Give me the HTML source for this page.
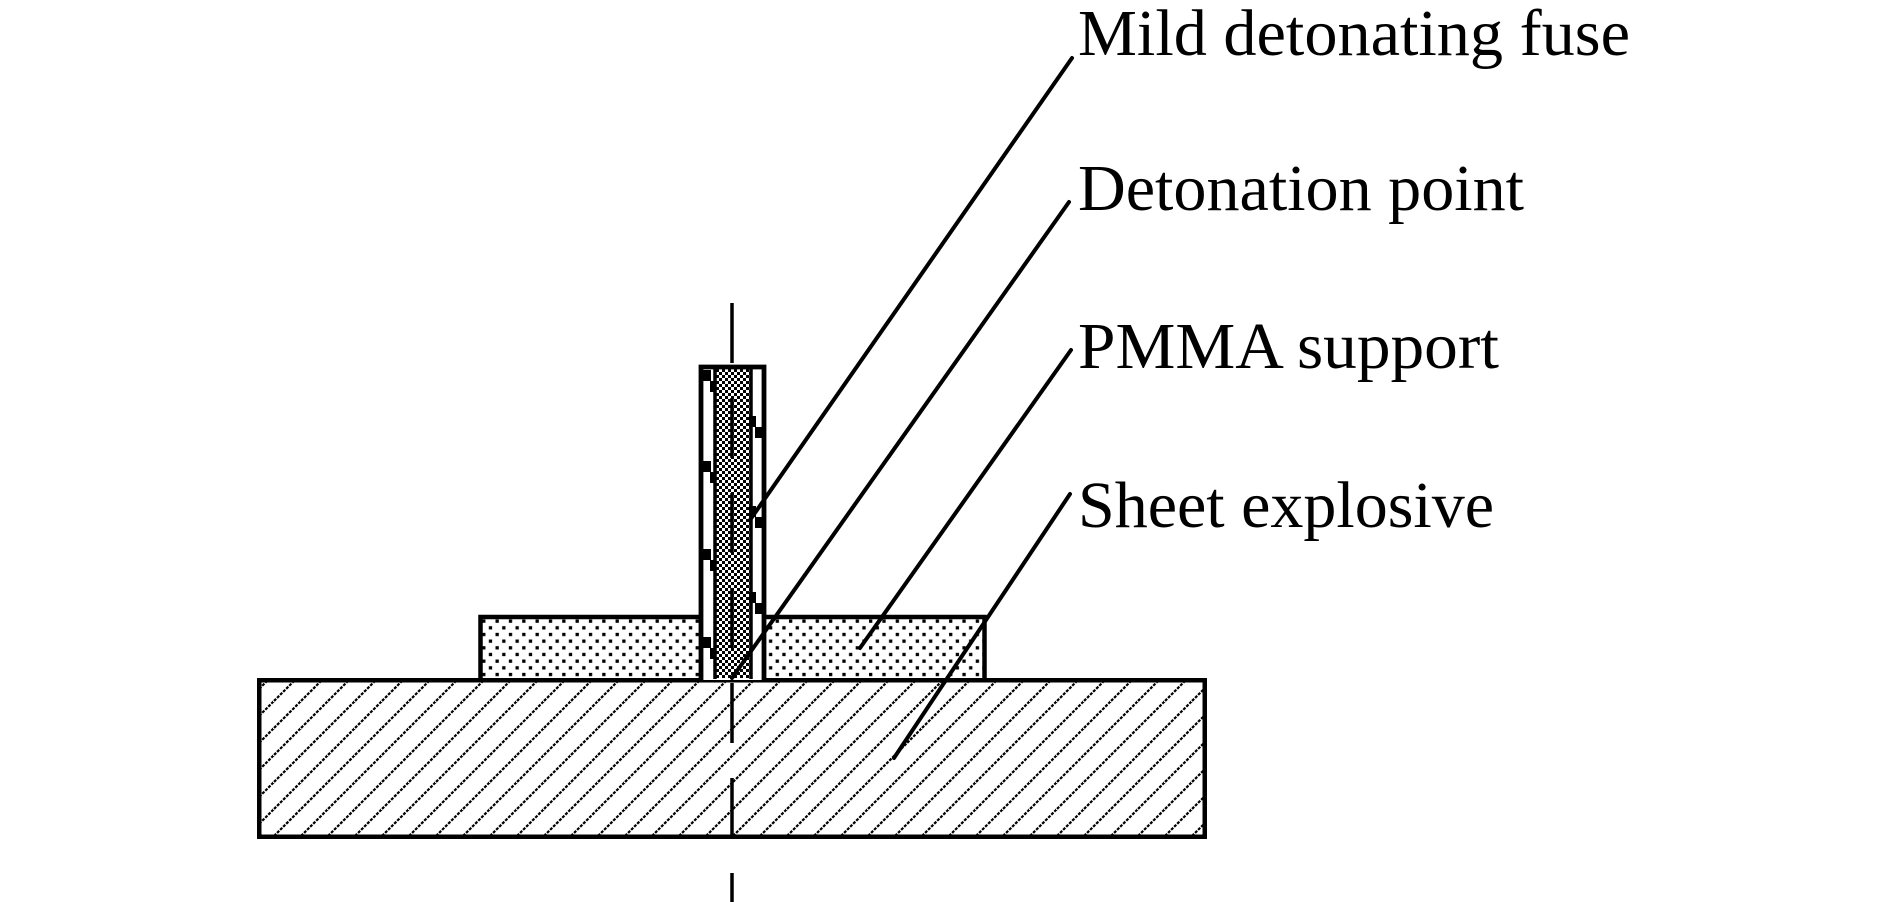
<!DOCTYPE html>
<html>
<head>
<meta charset="utf-8">
<style>
  html,body{margin:0;padding:0;background:#fff;}
  svg{display:block;}
  text{font-family:"Liberation Serif","Times New Roman",serif;font-size:66px;fill:#000;}
</style>
</head>
<body>
<svg width="1890" height="902" viewBox="0 0 1890 902" xmlns="http://www.w3.org/2000/svg">
  <defs>
    <pattern id="hatch" patternUnits="userSpaceOnUse" x="3" y="0" width="27" height="27">
      <line x1="-2" y1="29" x2="29" y2="-2" stroke="#000" stroke-width="2.2" stroke-dasharray="3 1.3"/>
      <line x1="-2" y1="2" x2="2" y2="-2" stroke="#000" stroke-width="2.2"/>
      <line x1="25" y1="29" x2="29" y2="25" stroke="#000" stroke-width="2.2"/>
    </pattern>
    <pattern id="dots" patternUnits="userSpaceOnUse" x="495.5" y="619.5" width="13.34" height="13.34">
      <rect x="0" y="0" width="3.3" height="3.3" fill="#000"/>
      <rect x="6.67" y="6.67" width="3.3" height="3.3" fill="#000"/>
    </pattern>
    <pattern id="checker" patternUnits="userSpaceOnUse" x="716" y="369" width="6" height="6">
      <rect x="0" y="0" width="3" height="3" fill="#000"/>
      <rect x="3" y="3" width="3" height="3" fill="#000"/>
    </pattern>
  </defs>

  <rect x="0" y="0" width="1890" height="902" fill="#fff"/>

  <!-- Sheet explosive -->
  <rect x="259.25" y="680.25" width="945.5" height="156.5" fill="url(#hatch)" stroke="#000" stroke-width="4.5"/>

  <!-- PMMA support -->
  <rect x="480.5" y="617" width="220.5" height="63" fill="url(#dots)"/>
  <rect x="764" y="617" width="220.5" height="63" fill="url(#dots)"/>
  <path d="M480.5,680 V617 H701" fill="none" stroke="#000" stroke-width="4.5" stroke-linecap="square"/>
  <path d="M764,617 H984.5 V680" fill="none" stroke="#000" stroke-width="4.5" stroke-linecap="square"/>

  <!-- Tube -->
  <rect x="701" y="367" width="63" height="313" fill="#fff"/>
  <!-- Fuse -->
  <rect x="715" y="369" width="36" height="309" fill="url(#checker)"/>
  <line x1="715" y1="369" x2="715" y2="679" stroke="#000" stroke-width="3.5"/>
  <line x1="751" y1="369" x2="751" y2="679" stroke="#000" stroke-width="3.5"/>
  <path d="M701,680 V367 H764 V680" fill="none" stroke="#000" stroke-width="4.8" stroke-linecap="square"/>

  <!-- Notches -->
  <g fill="#000">
    <rect x="703" y="370" width="8" height="11"/><rect x="710" y="381" width="6" height="11"/>
    <rect x="703" y="461" width="8" height="11"/><rect x="710" y="472" width="6" height="11"/>
    <rect x="703" y="549" width="8" height="11"/><rect x="710" y="560" width="6" height="11"/>
    <rect x="703" y="637" width="8" height="11"/><rect x="710" y="648" width="6" height="11"/>
    <rect x="749" y="416" width="7" height="11"/><rect x="755" y="427" width="8" height="11"/>
    <rect x="749" y="506" width="7" height="11"/><rect x="755" y="517" width="8" height="11"/>
    <rect x="749" y="592" width="7" height="11"/><rect x="755" y="603" width="8" height="11"/>
  </g>

  <!-- Center line -->
  <line x1="732" y1="303" x2="732" y2="902" stroke="#000" stroke-width="3.5" stroke-dasharray="60 35"/>

  <!-- Leader lines -->
  <g stroke="#000" stroke-width="4" stroke-linecap="round">
    <line x1="1072" y1="58" x2="750" y2="520"/>
    <line x1="1069" y1="202" x2="732" y2="678"/>
    <line x1="1071" y1="350" x2="860" y2="648"/>
    <line x1="1070" y1="494" x2="894" y2="758"/>
  </g>

  <!-- Labels -->
  <text x="1078" y="55" textLength="552" lengthAdjust="spacingAndGlyphs">Mild detonating fuse</text>
  <text x="1078" y="210" textLength="446" lengthAdjust="spacingAndGlyphs">Detonation point</text>
  <text x="1078" y="368" textLength="421" lengthAdjust="spacingAndGlyphs">PMMA support</text>
  <text x="1078" y="527" textLength="416" lengthAdjust="spacingAndGlyphs">Sheet explosive</text>
</svg>
</body>
</html>
